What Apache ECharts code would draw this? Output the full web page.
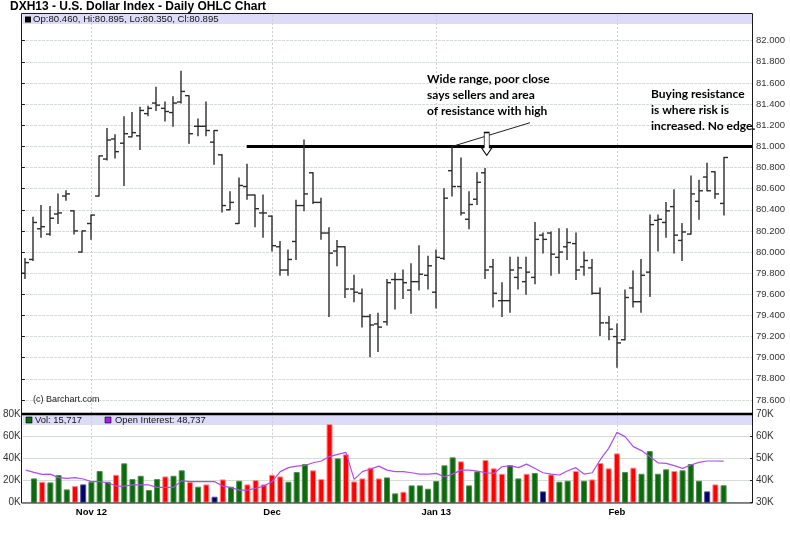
<!DOCTYPE html>
<html><head><meta charset="utf-8">
<script src="https://cdn.jsdelivr.net/npm/echarts@6/dist/echarts.min.js"></script>
<style>html,body{margin:0;padding:0;background:#fff}#c{width:790px;height:537px}</style>
</head><body><div id="c"></div>
<script>
// ---- DATA (index 0 = first session shown) ----
const opens = [79.80,79.93,80.22,80.17,80.36,80.53,80.39,80.00,80.27,80.53, 80.88,81.07,81.03,81.09,81.10,81.31,81.41,81.36,81.32,81.42, 81.48,81.19,81.19,81.04,80.92,80.40,80.27,80.62,80.54,80.37, 80.34,80.05,79.83,80.10,80.44,80.75,80.47,80.18,80.01,80.05, 79.65,79.61,79.39,79.32,79.34,79.74,79.74,79.64,79.72,79.78, 79.62,79.94,80.77,80.62,80.31,80.50,80.75,79.86,79.54,79.54, 79.76,79.72,79.76,80.16,80.18,79.95,80.05,80.08,79.86,79.85, 79.61,79.33,79.20,79.17,79.66,79.53,79.81,80.30,80.28,80.43, 80.11,80.17,80.48,80.71,80.76,80.46];
const highs = [79.94,80.33,80.44,80.43,80.55,80.58,80.39,80.20,80.35,80.91, 81.17,81.11,81.28,81.32,81.37,81.38,81.56,81.42,81.47,81.71, 81.48,81.26,81.42,81.15,80.92,80.57,80.70,80.83,80.54,80.54, 80.34,80.10,80.02,80.49,81.06,80.75,80.51,80.23,80.11,80.05, 79.78,79.65,79.41,79.42,79.74,79.80,79.83,79.89,80.06,79.96, 80.02,80.60,81.00,80.89,80.57,80.75,80.79,79.93,79.71,79.95, 79.95,79.95,80.28,80.18,80.19,80.22,80.22,80.18,80.00,79.93, 79.66,79.39,79.32,79.64,79.82,79.93,80.35,80.35,80.47,80.59, 80.27,80.72,80.68,80.84,80.76,80.895];
const lows = [79.75,79.92,80.14,80.16,80.27,80.49,80.17,80.00,80.12,80.53, 80.87,80.89,80.63,81.09,80.97,81.29,81.34,81.24,81.19,81.41, 81.03,81.10,81.10,80.83,80.38,80.40,80.27,80.50,80.24,80.14, 80.01,79.78,79.78,79.93,80.39,80.46,80.12,79.39,79.87,79.57, 79.53,79.29,79.01,79.06,79.31,79.46,79.56,79.42,79.64,79.65, 79.47,79.93,80.53,80.35,80.22,80.45,79.75,79.48,79.39,79.43, 79.65,79.60,79.70,79.99,79.78,79.80,79.93,79.74,79.78,79.60, 79.21,79.17,78.91,79.17,79.48,79.43,79.58,80.01,80.14,79.99, 79.92,80.17,80.31,80.58,80.51,80.35];
const closes = [79.90,80.28,80.24,80.32,80.37,80.55,80.20,80.20,80.35,80.91, 81.06,80.95,81.12,81.13,81.34,81.36,81.39,81.33,81.41,81.52, 81.12,81.19,81.15,81.15,80.44,80.47,80.63,80.54,80.41,80.37, 80.06,79.83,79.93,80.44,80.55,80.47,80.18,79.99,80.05,79.65, 79.62,79.39,79.31,79.29,79.71,79.74,79.71,79.72,79.79,79.87, 79.95,80.51,80.62,80.37,80.45,80.66,79.83,79.61,79.54,79.83, 79.85,79.81,80.12,80.12,79.98,80.00,80.09,79.83,79.92,79.61, 79.33,79.27,79.14,79.57,79.53,79.78,80.26,80.31,80.39,80.16, 80.19,80.55,80.58,80.58,80.55,80.895];
// volume in thousands (first session has no volume bar)
const volumes = [null, 21.9,18.9,18.3,24.9,12.0,15.0,16.5,18.9,28.6,18.9, 25.2,35.5,21.3,24.3,11.4,21.3,23.7,24.3,29.2,18.6, 14.4,16.5,5.4,21.0,14.4,19.8,16.5,20.4,16.5,25.2, 23.7,18.9,27.7,34.9,29.2,21.3,70.9,40.0,43.6,19.2, 21.9,31.6,21.9,22.8,8.4,9.9,15.6,15.6,12.6,19.5, 33.7,40.9,37.3,15.6,28.3,38.5,31.0,26.1,33.7,21.9, 26.1,26.8,10.2,25.5,18.9,19.8,28.6,19.8,21.0,35.8, 31.0,44.5,27.7,31.6,26.1,46.6,26.1,30.1,28.6,29.2, 34.9,19.8,10.2,16.5,15.717];
// open interest in thousands
const openInterest = [44.7,43.7,42.8,42.9,41.3,41.0,41.3,40.7,39.5,39.5, 39.0,37.5,37.5,38.0,38.0,38.0,36.9,36.9,36.9,39.9, 39.5,39.5,39.5,39.5,37.5,36.8,35.7,35.7,36.5,37.5, 39.5,44.0,45.8,46.5,46.8,48.0,48.8,50.8,51.8,52.7, 40.5,44.0,45.2,46.5,44.7,44.0,44.0,43.5,42.9,42.9, 43.2,41.7,42.9,44.7,44.7,44.3,43.5,43.2,46.2,46.7, 45.8,47.4,45.5,43.5,42.9,42.5,44.4,45.8,42.9,43.5, 49.5,54.5,61.7,59.8,55.3,53.5,50.8,48.0,47.7,46.7, 45.5,47.0,48.2,48.8,48.8,48.737];
const monthIdx = [8, 30, 50, 72];
const monthLabels = ['Nov 12', 'Dec', 'Jan 13', 'Feb'];
const priceMin = 78.6, priceMax = 82.0, priceStep = 0.2;
const volMin = 0, volMax = 80, volStep = 20;
const oiMin = 30, oiMax = 70, oiStep = 10;
const resistance = 81.0;
const resistStart = 26.98;
const noteLineFrom = [52, 81.0];
const noteLineTo = [61.45, 81.224];
const arrowAt = [56.18, 81.023];
const noteText1 = ['Wide range, poor close', 'says sellers and area', 'of resistance with high'];
const noteText2 = ['Buying resistance', 'is where risk is', 'increased. No edge.'];

// ---- LAYOUT ----
const L = 22, R = 37;
const xMin = -0.359, xMax = 88.58;
const n = closes.length, last = n - 1;
const FONT = '"Liberation Sans", Arial, sans-serif';
const GREEN = '#0b6a0b', RED = '#ff0000', NAVY = '#000066';

function barColor(i) {
  if (closes[i] > closes[i - 1]) return [GREEN, '#4f8f4f'];
  if (closes[i] < closes[i - 1]) return [RED, '#ff8c8c'];
  return [NAVY, '#50509a'];
}
const volData = [];
for (let i = 1; i < n; i++) {
  if (volumes[i] == null) continue;
  const c = barColor(i);
  volData.push({ value: [i, volumes[i]], itemStyle: { color: c[0], borderColor: c[1], borderWidth: 1 } });
}
const ohlcData = closes.map((c, i) => [i, opens[i], highs[i], lows[i], c]);
const oiData = openInterest.map((v, i) => [i, v]);

const xBase = { type: 'value', min: xMin, max: xMax, axisLine: { show: false }, axisTick: { show: false }, axisLabel: { show: false }, splitLine: { show: false } };

function vline(yLo, yHi) {
  return function (p, api) {
    const a = api.coord([api.value(0), yLo]);
    const b = api.coord([api.value(0), yHi]);
    const x = Math.round(a[0]) + 0.5;
    return { type: 'line', shape: { x1: x, y1: a[1], x2: x, y2: b[1] }, style: { stroke: '#d2cdd2', lineWidth: 1, lineDash: [2, 2] } };
  };
}

const fmt3 = v => v.toFixed(3);
const chart = echarts.init(document.getElementById('c'));
const textEl = (x, y, text, font, fill) => ({ type: 'text', x: x, y: y, z: 100, style: { text: text, font: font, fill: fill || '#000', verticalAlign: 'middle', align: 'left' } });

const graphics = [
  { type: 'rect', z: 0, shape: { x: 22.5, y: 14, width: 730, height: 10 }, style: { fill: '#dcdcf8' } },
  { type: 'rect', z: 0, shape: { x: 22.5, y: 415, width: 730, height: 10 }, style: { fill: '#dcdcf8' } },
  { type: 'rect', z: 100, shape: { x: 21.5, y: 13.5, width: 731, height: 489.5 }, style: { fill: null, stroke: '#1a1a1a', lineWidth: 1 } },
  { type: 'line', z: 100, shape: { x1: 22, y1: 414, x2: 753, y2: 414 }, style: { stroke: '#000', lineWidth: 2.5 } },
  textEl(10, 7, 'DXH13 - U.S. Dollar Index - Daily OHLC Chart', 'bold 12px ' + FONT),
  { type: 'rect', z: 100, shape: { x: 25, y: 16.5, width: 6, height: 6 }, style: { fill: '#000' } },
  textEl(33, 19.5, 'Op:' + fmt3(opens[last]) + ', Hi:' + fmt3(highs[last]) + ', Lo:' + fmt3(lows[last]) + ', Cl:' + fmt3(closes[last]), '9.6px ' + FONT, '#111'),
  { type: 'rect', z: 100, shape: { x: 26, y: 417, width: 6, height: 6 }, style: { fill: GREEN, stroke: '#000', lineWidth: 0.6 } },
  textEl(35, 420.5, 'Vol: ' + Math.round(volumes[last] * 1000).toLocaleString('en-US'), '9.4px ' + FONT, '#111'),
  { type: 'rect', z: 100, shape: { x: 105, y: 417, width: 6, height: 6 }, style: { fill: '#a020f0', stroke: '#000', lineWidth: 0.6 } },
  textEl(115, 420.5, 'Open Interest: ' + Math.round(openInterest[last] * 1000).toLocaleString('en-US'), '9.4px ' + FONT, '#111'),
  textEl(33, 400, '(c) Barchart.com', '9px ' + FONT, '#222')
];
noteText1.forEach((t, k) => graphics.push(textEl(427, 79.5 + k * 15.6, t, 'bold 12px Lato, ' + FONT)));
noteText2.forEach((t, k) => graphics.push(textEl(651, 94.5 + k * 15.8, t, 'bold 12px Lato, ' + FONT)));

const option = {
  animation: false,
  backgroundColor: '#fff',
  grid: [
    { left: L, right: R, top: 13, height: 400 },
    { left: L, right: R, top: 40.7, height: 359.3 },
    { left: L, right: R, top: 414, height: 88.7 }
  ],
  xAxis: [
    Object.assign({}, xBase, { gridIndex: 0 }),
    Object.assign({}, xBase, { gridIndex: 1 }),
    Object.assign({}, xBase, {
      gridIndex: 2,
      axisLabel: { show: true, customValues: monthIdx, formatter: v => monthLabels[monthIdx.indexOf(v)] || '', fontWeight: 'bold', fontSize: 9.5, fontFamily: FONT, color: '#000', margin: 5 }
    })
  ],
  yAxis: [
    { gridIndex: 0, type: 'value', min: 0, max: 1, show: false },
    { gridIndex: 1, type: 'value', position: 'right', min: priceMin, max: priceMax, interval: priceStep,
      axisLine: { show: false }, axisTick: { show: true, inside: true, length: 3, lineStyle: { color: '#222' } },
      axisLabel: { formatter: fmt3, fontSize: 9.5, fontFamily: FONT, color: '#333', margin: 3 },
      splitLine: { show: true, lineStyle: { color: '#d6ddd6', width: 1, type: [3, 1] } } },
    { gridIndex: 2, type: 'value', position: 'left', min: volMin, max: volMax, interval: volStep,
      axisLine: { show: false }, axisTick: { show: false },
      axisLabel: { formatter: '{value}K', fontSize: 10, fontFamily: FONT, color: '#333', margin: 2 },
      splitLine: { show: true, lineStyle: { color: '#d6ddd6', width: 1 } } },
    { gridIndex: 2, type: 'value', position: 'right', min: oiMin, max: oiMax, interval: oiStep,
      axisLine: { show: false }, axisTick: { show: true, inside: true, length: 3, lineStyle: { color: '#222' } },
      axisLabel: { formatter: '{value}K', fontSize: 10, fontFamily: FONT, color: '#333', margin: 3 },
      splitLine: { show: false } }
  ],
  series: [
    { type: 'custom', xAxisIndex: 0, yAxisIndex: 0, silent: true, z: 1, data: monthIdx.map(m => [m, 0]), renderItem: vline(0, 1) },
    { type: 'custom', xAxisIndex: 2, yAxisIndex: 2, silent: true, z: 1, data: monthIdx.map(m => [m, 0]), renderItem: vline(volMin, volMax) },
    {
      type: 'custom', name: 'OHLC', xAxisIndex: 1, yAxisIndex: 1, z: 5, clip: false,
      data: ohlcData,
      encode: { x: 0, y: [1, 2, 3, 4] },
      renderItem: function (p, api) {
        const x = api.value(0);
        const o = api.coord([x, api.value(1)]);
        const h = api.coord([x, api.value(2)]);
        const l = api.coord([x, api.value(3)]);
        const c = api.coord([x, api.value(4)]);
        const px = Math.round(h[0]);
        const st = { stroke: '#2b2b2b', lineWidth: 1.4 };
        return { type: 'group', children: [
          { type: 'line', shape: { x1: px, y1: h[1] - 0.5, x2: px, y2: l[1] + 0.5 }, style: st },
          { type: 'line', shape: { x1: px - 4, y1: o[1], x2: px, y2: o[1] }, style: st },
          { type: 'line', shape: { x1: px, y1: c[1], x2: px + 4, y2: c[1] }, style: st }
        ] };
      },
      markLine: {
        silent: true, symbol: ['none', 'none'], animation: false,
        label: { show: false },
        data: [
          [{ coord: [resistStart, resistance], lineStyle: { color: '#000', width: 3, type: 'solid' } }, { coord: [xMax, resistance], lineStyle: { color: '#000', width: 3, type: 'solid' } }],
          [{ coord: noteLineFrom, lineStyle: { color: '#222', width: 1, type: 'solid' } }, { coord: noteLineTo, lineStyle: { color: '#222', width: 1, type: 'solid' } }],
          { yAxis: closes[last], lineStyle: { opacity: 0, width: 0 },
            label: { show: true, position: 'end', distance: 1, formatter: fmt3(closes[last]), color: '#fff', backgroundColor: '#000', padding: [1, 1, 0, 1], fontSize: 9.5, fontFamily: FONT } }
        ]
      },
      markPoint: {
        silent: true, animation: false,
        data: [{ coord: arrowAt, symbol: 'path://M3,0L8,0L8,15L11,15L5.5,23L0,15L3,15Z', symbolSize: [11, 23],
          itemStyle: { color: '#fff', borderColor: '#000', borderWidth: 1 }, label: { show: false } }]
      }
    },
    { type: 'bar', xAxisIndex: 2, yAxisIndex: 2, barWidth: 6, z: 3, data: volData },
    { type: 'line', xAxisIndex: 2, yAxisIndex: 3, z: 4, data: oiData, symbol: 'none', lineStyle: { color: '#b04cf5', width: 1.2 } }
  ],
  graphic: graphics
};
chart.setOption(option);
</script>
</body></html>
